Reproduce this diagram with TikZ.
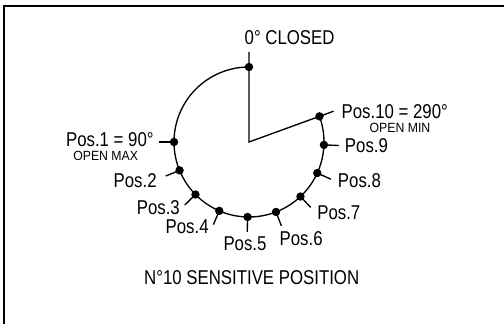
\documentclass[tikz,border=0pt]{standalone}
\usepackage{fontspec}
\setmainfont{Liberation Sans}[FakeStretch=0.84]
\newfontfamily\capfont{Liberation Sans}[FakeStretch=0.92]

\tikzset{every picture/.style={line width=1pt}}
\tikzset{
  posdot/.style={circle,fill=black,inner sep=0pt,minimum size=6.3pt},
  poslabel/.style={inner sep=0pt,font=\fontsize{15}{17}\selectfont},
  sublabel/.style={inner sep=0pt,font=\capfont\fontsize{10}{12}\selectfont},
}

\begin{document}
\begin{tikzpicture}[x=0.75pt,y=0.75pt,yscale=-1,xscale=1]
\useasboundingbox (0,0) rectangle (504,324);

%Frame
\draw (4,324) -- (4,6) -- (504,6);

%Dial points
\coordinate (ctr) at (249,142);
\coordinate (p0) at ([shift={(-90:75)}]ctr);
\coordinate (t0) at ([shift={(-90:90)}]ctr);
\foreach \k in {1,...,10} {
  \pgfmathsetmacro\ang{180+(\k-1)*200/9}
  \coordinate (p\k) at ([shift={(-\ang:75)}]ctr);
  \coordinate (t\k) at ([shift={(-\ang:90)}]ctr);
}

%Curve Lines
\draw (p0) arc[start angle=-90, end angle=-380, radius=75];
%Straight Lines
\draw (t0) -- (ctr) -- (t10);
\foreach \k in {1,...,9} \draw (p\k) -- (t\k);
%Shape: dots
\foreach \k in {0,...,10} \node[posdot] (d\k) at (p\k) {};

% Text Node
\node[poslabel,anchor=base west] (closed) at (244,45) {0° CLOSED};
% Text Node
\node[poslabel,anchor=base east] (pos1) at (154.3,146.3) {Pos.1 = 90°};
\node[sublabel,anchor=base east] (openmax) at (138.7,160.5) {OPEN MAX};
% Text Node
\foreach \k/\x/\y/\a in {2/157.3/187.5/base east, 3/180.5/215/base east,
    4/209.3/234/base east, 5/245/251/base, 6/279/246/base west,
    7/316.7/219.3/base west, 8/337.3/188/base west, 9/344.3/153/base west}
  \node[poslabel,anchor=\a] (pos\k) at (\x,\y) {Pos.\k};
% Text Node
\node[poslabel,anchor=base west] (pos10) at (341,118.5) {Pos.10 = 290°};
\node[sublabel,anchor=base west] (openmin) at (369,132.5) {OPEN MIN};
% Text Node
\node[poslabel,anchor=base] (title) at (251.7,285) {N°10 SENSITIVE POSITION};

\end{tikzpicture}
\end{document}
